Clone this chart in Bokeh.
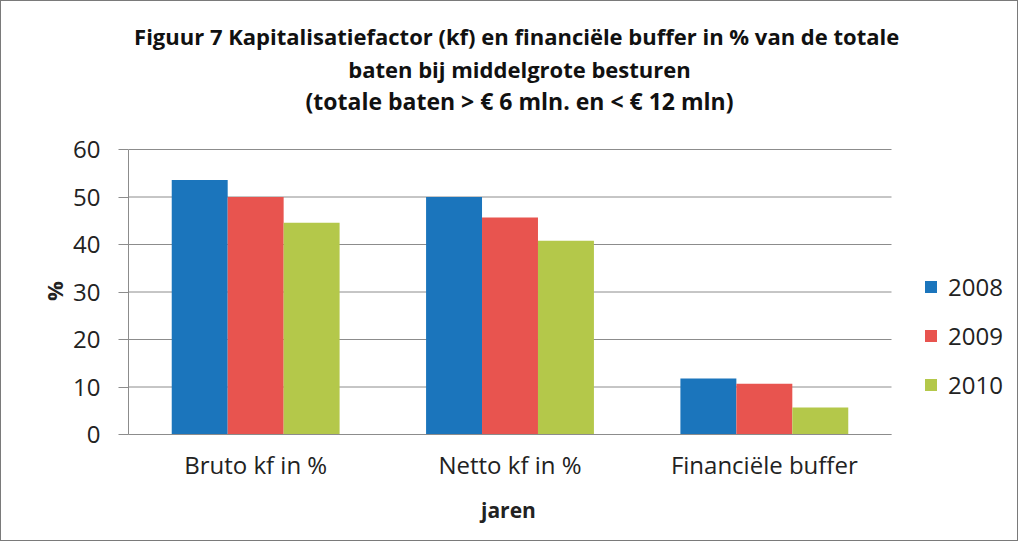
import numpy as np
from bokeh.plotting import figure
from bokeh.models import (Range1d, Label, Legend, LegendItem, Title,
                          ColumnDataSource, FixedTicker)
from bokeh.embed import file_html
from bokeh.resources import INLINE

categories = ["Bruto kf in %", "Netto kf in %", "Financiële buffer"]
years = ["2008", "2009", "2010"]
values_2008 = [53.6, 50.0, 11.8]
values_2009 = [50.0, 45.7, 10.7]
values_2010 = [44.6, 40.8, 5.7]
colors = ["#1B75BC", "#E8544F", "#B4C84A"]
title_lines = [
    "Figuur 7 Kapitalisatiefactor  (kf) en financiële buffer in % van de totale",
    "baten bij middelgrote besturen",
    "(totale baten > € 6 mln. en < € 12 mln)",
]
x_title = "jaren"
y_title = "%"
y_ticks = [0, 10, 20, 30, 40, 50, 60]

FONT = "Open Sans"
TXT = "#222222"
GRID = "#8c8c8c"

W, H = 1018, 541
FL, FB = 127, 108            # frame left / bottom border (px)
PLOT_W, PLOT_H = 763, 285    # size of the data area of the chart (px)
n = len(categories)
ymax = y_ticks[-1]
frame_w = W - FL
frame_h = H - FB
x_end = n * frame_w / PLOT_W
y_end = ymax * frame_h / PLOT_H

centers = np.arange(n) + 0.5
bar_w = 0.22
source = ColumnDataSource(dict(
    x2008=centers - bar_w, x2009=centers, x2010=centers + bar_w,
    y2008=values_2008, y2009=values_2009, y2010=values_2010))

p = figure(width=W, height=H, x_range=Range1d(0, x_end), y_range=Range1d(0, y_end),
           output_backend="svg", toolbar_location=None,
           min_border_left=FL, min_border_right=0, min_border_top=0,
           min_border_bottom=FB)
p.styles = {"border": "1px solid #7a7a7a", "box-sizing": "border-box"}
p.outline_line_color = None
p.background_fill_color = "white"
p.border_fill_color = "white"

# horizontal gridlines across the data area only
p.xgrid.grid_line_color = None
p.ygrid.grid_line_color = None
p.segment(x0=[0] * len(y_ticks), x1=[n] * len(y_ticks), y0=y_ticks, y1=y_ticks,
          line_color=GRID, line_width=1)

renderers = []
for i, yr in enumerate(years):
    r = p.vbar(x="x" + yr, top="y" + yr, width=bar_w, source=source,
               fill_color=colors[i], line_color=None)
    renderers.append((yr, r))

# y axis
p.yaxis.ticker = FixedTicker(ticks=y_ticks)
p.yaxis.bounds = (0, ymax)
p.yaxis.axis_line_color = GRID
p.yaxis.major_tick_line_color = GRID
p.yaxis.major_tick_out = 10
p.yaxis.major_tick_in = 0
p.yaxis.minor_tick_line_color = None
p.yaxis.major_label_standoff = 18
p.yaxis.major_label_text_font = FONT
p.yaxis.major_label_text_font_size = "24px"
p.yaxis.major_label_text_color = TXT

# x axis (categories)
p.xaxis.ticker = FixedTicker(ticks=list(centers))
p.xaxis.major_label_overrides = {float(c): lab for c, lab in zip(centers, categories)}
p.xaxis.bounds = (0, n)
p.xaxis.axis_line_color = GRID
p.xaxis.major_tick_line_color = None
p.xaxis.minor_tick_line_color = None
p.xaxis.major_label_standoff = 7
p.xaxis.major_label_text_font = FONT
p.xaxis.major_label_text_font_size = "24px"
p.xaxis.major_label_text_color = TXT

# axis titles, centred on the data area
p.add_layout(Title(text=x_title, align="left", offset=PLOT_W / 2 - 29, standoff=20,
                   text_font=FONT, text_font_size="21px", text_font_style="bold",
                   text_color=TXT), "below")
p.add_layout(Title(text=y_title, align="left", offset=PLOT_H / 2 - 9, standoff=4,
                   text_font=FONT, text_font_size="22px", text_font_style="bold",
                   text_color=TXT), "left")

# title lines (screen px from frame bottom-left)
title_y = [399, 366, 334]
title_sizes = ["22px", "22px", "23px"]
for txt, yy, fs in zip(title_lines, title_y, title_sizes):
    p.add_layout(Label(x=391, y=yy, x_units="screen", y_units="screen", text=txt,
                       text_align="center", text_baseline="middle",
                       text_font=FONT, text_font_size=fs, text_font_style="bold",
                       text_color="#111111"))

legend = Legend(items=[LegendItem(label=yr, renderers=[r]) for yr, r in renderers],
                location=(795, 33), glyph_width=15, glyph_height=15, label_height=15,
                spacing=16, label_standoff=10, padding=10, margin=0,
                border_line_color=None, background_fill_alpha=0,
                label_text_font=FONT, label_text_font_size="24px",
                label_text_color=TXT)
p.add_layout(legend, "center")

open("out.html", "w").write(file_html(p, INLINE))
